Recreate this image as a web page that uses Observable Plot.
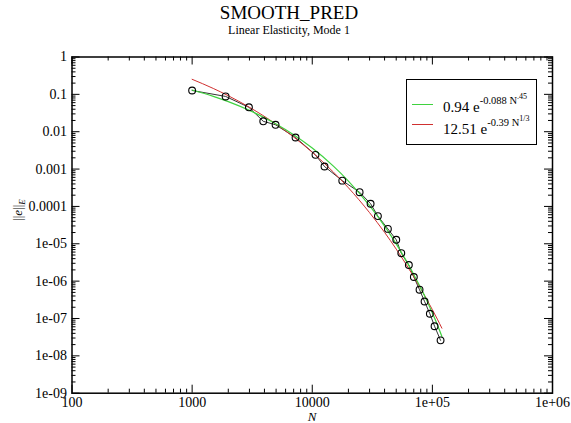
<!DOCTYPE html>
<html>
<head>
<meta charset="utf-8">
<script src="https://cdn.jsdelivr.net/npm/d3@7"></script>
<script src="https://cdn.jsdelivr.net/npm/@observablehq/plot@0.6"></script>
<style>
  body { margin: 0; background: #fff; font-family: "Liberation Serif", serif; color: #000; }
  #wrap { position: relative; width: 571px; height: 423px; overflow: hidden; }
  #title { position: absolute; top: 2px; left: 0; width: 578px; text-align: center; font-size: 19px; line-height: 22px; }
  #subtitle { position: absolute; top: 23px; left: 0; width: 578px; text-align: center; font-size: 12px; line-height: 15px; }
  #chart { position: absolute; top: 40px; left: 0; }
  #ylabel { position: absolute; left: 18px; top: 210px; transform: translate(-50%, -50%) rotate(-90deg); font-size: 13px; white-space: nowrap; }
  #ylabel sub { font-size: 9px; font-style: italic; vertical-align: -3px; }
  #xlabel { position: absolute; left: 312px; top: 409px; transform: translateX(-50%); font-size: 13px; font-style: italic; }
  #legend { position: absolute; left: 406px; top: 79px; width: 129px; height: 64px; border: 1.5px solid #000; background: #fff; }
  .lg-line { position: absolute; left: 5px; width: 21px; height: 0; border-top: 1px solid; }
  .lg-text { position: absolute; left: 36px; font-size: 15px; line-height: 16px; white-space: nowrap; }
  .lg-text sup { font-size: 10.5px; vertical-align: 8px; line-height: 0; }
  .lg-text sup sup { font-size: 8px; vertical-align: 5px; }
</style>
</head>
<body>
<div id="wrap">
  <div id="title">SMOOTH_PRED</div>
  <div id="subtitle">Linear Elasticity, Mode 1</div>
  <div id="chart"></div>
  <div id="ylabel">||<i>e</i>||<sub>E</sub></div>
  <div id="xlabel">N</div>
  <div id="legend">
    <div class="lg-line" style="top:24px;border-color:#3fd23f"></div>
    <div class="lg-text" style="top:17px">0.94 e<sup>-0.088 N<sup>.45</sup></sup></div>
    <div class="lg-line" style="top:44px;border-color:#d03030"></div>
    <div class="lg-text" style="top:39px">12.51 e<sup>-0.39 N<sup>1/3</sup></sup></div>
  </div>
</div>
<script>
// ---- data ----
const dataN = [1000, 1900, 2970, 3910, 4950, 7260, 10640, 12650, 17780, 24790, 30600, 35200, 42630, 50050, 55100, 63700, 70100, 78200, 86100, 95300, 104300, 117000];
const dataErr = [0.127, 0.088, 0.045, 0.019, 0.0153, 0.0070, 0.0024, 0.00117, 0.00049, 0.00024, 0.000118, 5.5e-5, 2.5e-5, 1.28e-5, 5.6e-6, 2.7e-6, 1.29e-6, 5.9e-7, 2.85e-7, 1.34e-7, 6.2e-8, 2.6e-8];

const fitN = [1000, 1500, 2000, 3000, 5000, 7000, 10000, 15000, 20000, 30000, 40000, 50000, 60000, 70000, 80000, 90000, 100000, 110000, 120000];
const greenFit = [0.131, 0.0884, 0.0638, 0.0372, 0.0161, 0.0083, 0.00365, 0.0012, 4.78e-4, 1.05e-4, 2.97e-5, 9.9e-6, 3.7e-6, 1.5e-6, 6.6e-7, 3.0e-7, 1.4e-7, 6.8e-8, 3.3e-8];
const redFit = [0.253, 0.144, 0.0919, 0.0451, 0.0159, 0.0072, 0.00281, 8.3e-4, 3.16e-4, 6.8e-5, 2.02e-5, 7.2e-6, 2.93e-6, 1.31e-6, 6.3e-7, 3.2e-7, 1.72e-7, 9.6e-8, 5.5e-8];

const xMajor = [100, 1000, 10000, 100000, 1000000];
const xTickLabels = ["100", "1000", "10000", "1e+05", "1e+06"];
const yMajor = [1, 0.1, 0.01, 0.001, 0.0001, 1e-5, 1e-6, 1e-7, 1e-8, 1e-9];
const yTickLabels = ["1", "0.1", "0.01", "0.001", "0.0001", "1e-05", "1e-06", "1e-07", "1e-08", "1e-09"];
const minorMult = [2, 3, 4, 5, 6, 7, 8, 9];

// ---- build ----
const xMinor = xMajor.slice(0, -1).flatMap(d => minorMult.map(m => d * m));
const yMinor = yMajor.slice(1).flatMap(d => minorMult.map(m => d * m));
const xFmt = new Map(xMajor.map((v, i) => [v, xTickLabels[i]]));
const yFmt = new Map(yMajor.map((v, i) => [v, yTickLabels[i]]));

const W = 571, H = 383;
const mt = 16.5, mb = 30.3, ml = 71.5, mr = 19;
const fh = H - mt - mb, fw = W - ml - mr;
const bigT = 8, smallT = 4;

const data = dataN.map((n, i) => ({n, e: dataErr[i]}));
const green = fitN.map((n, i) => ({n, e: greenFit[i]}));
const red = fitN.map((n, i) => ({n, e: redFit[i]}));

const chart = Plot.plot({
  width: W, height: H,
  marginTop: mt, marginBottom: mb, marginLeft: ml, marginRight: mr,
  style: {fontFamily: "Liberation Serif, serif", fontSize: "14px", background: "white", color: "black", overflow: "visible"},
  x: {type: "log", domain: [100, 1e6], ticks: xMajor, tickFormat: d => xFmt.get(d), tickSize: 0, tickPadding: 4, label: null},
  y: {type: "log", domain: [1e-9, 1], ticks: yMajor, tickFormat: d => yFmt.get(d), tickSize: 0, tickPadding: 5, label: null},
  marks: [
    Plot.tickX(xMajor, {x: d => d, insetTop: fh - bigT, stroke: "black"}),
    Plot.tickX(xMajor, {x: d => d, insetBottom: fh - bigT, stroke: "black"}),
    Plot.tickX(xMinor, {x: d => d, insetTop: fh - smallT, stroke: "black"}),
    Plot.tickX(xMinor, {x: d => d, insetBottom: fh - smallT, stroke: "black"}),
    Plot.tickY(yMajor, {y: d => d, insetRight: fw - bigT, stroke: "black"}),
    Plot.tickY(yMajor, {y: d => d, insetLeft: fw - bigT, stroke: "black"}),
    Plot.tickY(yMinor, {y: d => d, insetRight: fw - smallT, stroke: "black"}),
    Plot.tickY(yMinor, {y: d => d, insetLeft: fw - smallT, stroke: "black"}),
    Plot.line(data, {x: "n", y: "e", stroke: "black", strokeWidth: 0.8}),
    Plot.line(red, {x: "n", y: "e", stroke: "#d03030", strokeWidth: 1, curve: "monotone-x"}),
    Plot.line(green, {x: "n", y: "e", stroke: "#3fd23f", strokeWidth: 1.2, curve: "monotone-x"}),
    Plot.dot(data, {x: "n", y: "e", r: 3.4, stroke: "black", fill: "none", strokeWidth: 1.1}),
    Plot.frame({stroke: "black", strokeWidth: 1.5})
  ]
});
document.getElementById("chart").appendChild(chart);
</script>
</body>
</html>
